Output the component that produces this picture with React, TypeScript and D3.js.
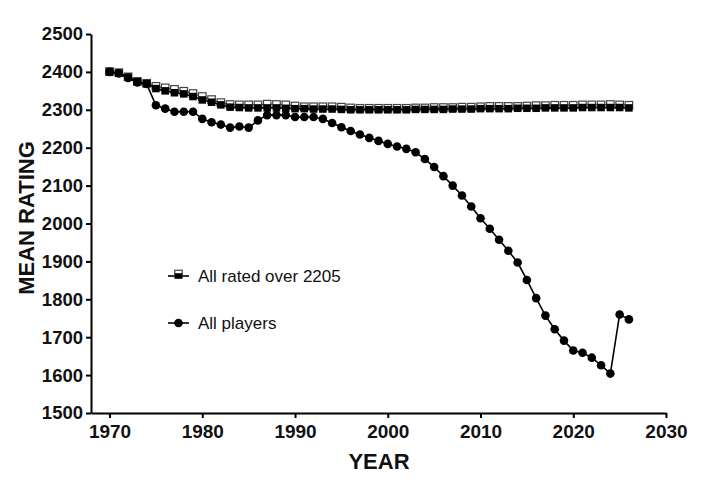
import React, { useEffect, useRef } from "react";
import * as d3 from "d3";

const years: number[] = d3.range(1970, 2027);

const allPlayers: number[] = [
  2400, 2396, 2384, 2372, 2368, 2312, 2303, 2295, 2295, 2295,
  2276, 2267, 2261, 2253, 2256, 2253, 2272, 2286, 2286, 2286,
  2281, 2281, 2281, 2276, 2265, 2254, 2244, 2235, 2226, 2218,
  2210, 2203, 2197, 2188, 2170, 2149, 2125, 2100, 2074, 2045,
  2014, 1986, 1957, 1928, 1897, 1851, 1803, 1757, 1721, 1691,
  1665, 1659, 1646, 1626, 1604, 1760, 1747,
];

const over2205Filled: number[] = [
  2400, 2397, 2386, 2374, 2369, 2356, 2350, 2345, 2342, 2335,
  2326, 2320, 2313, 2307, 2306, 2305, 2305, 2305, 2305, 2304,
  2303, 2303, 2302, 2302, 2302, 2301, 2300, 2300, 2300, 2300,
  2300, 2300, 2300, 2301, 2301, 2301, 2301, 2302, 2302, 2302,
  2303, 2303, 2303, 2303, 2304, 2304, 2304, 2305, 2305, 2305,
  2305, 2306, 2306, 2306, 2306, 2306, 2305,
];

const over2205Open: number[] = [
  2401, 2398, 2387, 2375, 2370, 2362, 2358, 2354, 2349, 2343,
  2335, 2327, 2319, 2314, 2313, 2313, 2313, 2315, 2314, 2313,
  2310, 2308, 2308, 2308, 2308, 2307, 2305, 2304, 2304, 2304,
  2304, 2304, 2304, 2305, 2305, 2306, 2306, 2306, 2307, 2307,
  2308, 2309, 2309, 2309, 2309, 2310, 2311, 2311, 2312, 2312,
  2312, 2313, 2313, 2313, 2314, 2313, 2312,
];

const xTicks: number[] = [1970, 1980, 1990, 2000, 2010, 2020, 2030];
const yTicks: number[] = d3.range(1500, 2501, 100);

const legendLabels: string[] = ["All rated over 2205", "All players"];

const FONT = "'Liberation Sans', Arial, Helvetica, sans-serif";

export default function App() {
  const ref = useRef<SVGSVGElement | null>(null);

  useEffect(() => {
    const svg = d3.select(ref.current);
    svg.selectAll("*").remove();

    const x = d3.scaleLinear().domain([1968, 2030]).range([91, 666]);
    const y = d3.scaleLinear().domain([1500, 2500]).range([413, 34]);

    const gx = svg
      .append("g")
      .attr("transform", `translate(0,${y(1500)})`)
      .call(
        d3
          .axisBottom(x)
          .tickValues(xTicks)
          .tickFormat(d3.format("d"))
          .tickSize(5)
          .tickSizeOuter(0)
          .tickPadding(7)
      );
    gx.select(".domain").attr("stroke", "#000").attr("stroke-width", 2);
    gx.selectAll(".tick line").attr("stroke", "#000").attr("stroke-width", 2);
    gx.selectAll(".tick text")
      .attr("font-family", FONT)
      .attr("font-weight", "bold")
      .attr("font-size", 19)
      .attr("fill", "#111");

    const gy = svg
      .append("g")
      .attr("transform", `translate(${x(1968)},0)`)
      .call(
        d3
          .axisLeft(y)
          .tickValues(yTicks)
          .tickFormat(d3.format("d"))
          .tickSize(5)
          .tickSizeOuter(0)
          .tickPadding(3)
      );
    gy.select(".domain").attr("stroke", "#000").attr("stroke-width", 2);
    gy.selectAll(".tick line").attr("stroke", "#000").attr("stroke-width", 2);
    gy.selectAll(".tick text")
      .attr("font-family", FONT)
      .attr("font-weight", "bold")
      .attr("font-size", 18.5)
      .attr("fill", "#111");

    svg
      .append("text")
      .attr("x", 379)
      .attr("y", 469)
      .attr("text-anchor", "middle")
      .attr("font-family", FONT)
      .attr("font-weight", "bold")
      .attr("font-size", 22)
      .attr("fill", "#111")
      .text("YEAR");
    svg
      .append("text")
      .attr("transform", "translate(34,218) rotate(-90)")
      .attr("text-anchor", "middle")
      .attr("font-family", FONT)
      .attr("font-weight", "bold")
      .attr("font-size", 22)
      .attr("fill", "#111")
      .text("MEAN RATING");

    const line = (vals: number[]) =>
      d3
        .line<number>()
        .x((_, i) => x(years[i]))
        .y((d) => y(d))(vals);

    const sq = 7.5;

    svg
      .append("path")
      .attr("d", line(over2205Open))
      .attr("fill", "none")
      .attr("stroke", "#333")
      .attr("stroke-width", 1.3);
    svg
      .append("g")
      .selectAll("rect")
      .data(over2205Open)
      .join("rect")
      .attr("x", (_, i) => x(years[i]) - sq / 2)
      .attr("y", (d) => y(d) - sq / 2)
      .attr("width", sq)
      .attr("height", sq)
      .attr("fill", "#fff")
      .attr("stroke", "#444")
      .attr("stroke-width", 1.2);

    svg
      .append("path")
      .attr("d", line(over2205Filled))
      .attr("fill", "none")
      .attr("stroke", "#000")
      .attr("stroke-width", 1.6);
    svg
      .append("g")
      .selectAll("rect")
      .data(over2205Filled)
      .join("rect")
      .attr("x", (_, i) => x(years[i]) - sq / 2)
      .attr("y", (d) => y(d) - sq / 2)
      .attr("width", sq)
      .attr("height", sq)
      .attr("fill", "#000");

    svg
      .append("path")
      .attr("d", line(allPlayers))
      .attr("fill", "none")
      .attr("stroke", "#000")
      .attr("stroke-width", 1.6);
    svg
      .append("g")
      .selectAll("circle")
      .data(allPlayers)
      .join("circle")
      .attr("cx", (_, i) => x(years[i]))
      .attr("cy", (d) => y(d))
      .attr("r", 4.3)
      .attr("fill", "#000");

    const lg = svg.append("g");
    const rows = [276, 323];
    rows.forEach((ry, i) => {
      lg.append("line")
        .attr("x1", 168)
        .attr("x2", 189)
        .attr("y1", ry)
        .attr("y2", ry)
        .attr("stroke", "#000")
        .attr("stroke-width", 1.6);
      if (i === 0) {
        lg.append("rect")
          .attr("x", 178.5 - sq / 2)
          .attr("y", ry - 2 - sq / 2)
          .attr("width", sq)
          .attr("height", sq)
          .attr("fill", "#fff")
          .attr("stroke", "#444")
          .attr("stroke-width", 1.2);
        lg.append("rect")
          .attr("x", 178.5 - sq / 2)
          .attr("y", ry + 1 - sq / 2)
          .attr("width", sq)
          .attr("height", sq - 2)
          .attr("fill", "#000");
      } else {
        lg.append("circle").attr("cx", 178.5).attr("cy", ry).attr("r", 4.3).attr("fill", "#000");
      }
      lg.append("text")
        .attr("x", 198)
        .attr("y", ry)
        .attr("dy", "0.35em")
        .attr("font-family", FONT)
        .attr("font-size", 17)
        .attr("fill", "#111")
        .text(legendLabels[i]);
    });
  }, []);

  return (
    <svg
      ref={ref}
      width={720}
      height={485}
      style={{ position: "absolute", left: 0, top: 0, background: "#fff", display: "block" }}
    />
  );
}
